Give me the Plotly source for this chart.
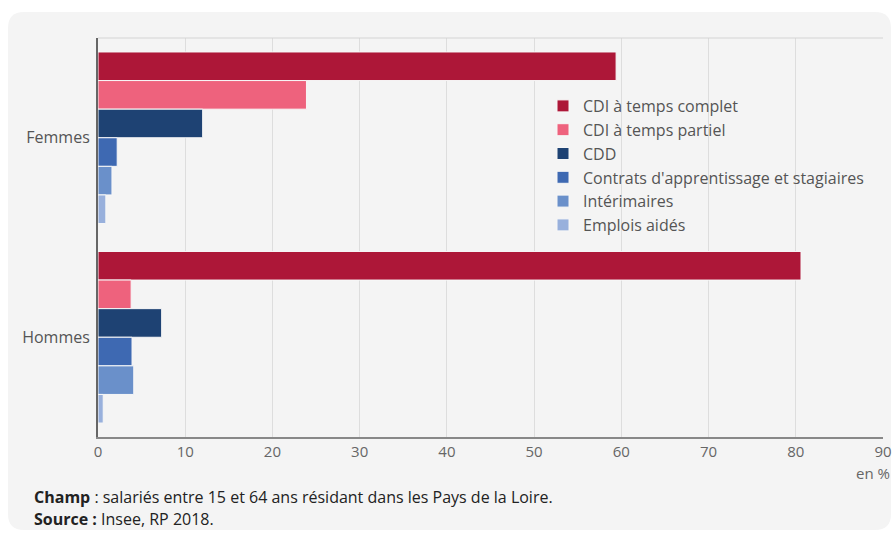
import plotly.graph_objects as go

categories = ["Femmes", "Hommes"]
series_names = ["CDI à temps complet", "CDI à temps partiel", "CDD",
                "Contrats d'apprentissage et stagiaires", "Intérimaires", "Emplois aidés"]
cdi_complet = [59.4, 80.6]
cdi_partiel = [23.9, 3.8]
cdd = [12.0, 7.3]
apprentissage = [2.2, 3.9]
interimaires = [1.6, 4.1]
emplois_aides = [0.9, 0.6]
values = [cdi_complet, cdi_partiel, cdd, apprentissage, interimaires, emplois_aides]
colors = ["#ad1738", "#ee627d", "#1e4273", "#3e69b2", "#6a90ca", "#98b0dc"]
x_ticks = [0, 10, 20, 30, 40, 50, 60, 70, 80, 90]

W, H = 892, 540
L, R, T, B = 98, 9, 38, 103
pw, ph = W - L - R, H - T - B

def px(x):
    return (x - L) / pw

def py(y):
    return (H - B - y) / ph

fig = go.Figure()
for name, vals, col in zip(series_names, values, colors):
    fig.add_trace(go.Bar(
        y=categories, x=vals, name=name, orientation="h",
        marker=dict(color=col, line=dict(color="#f7f7f7", width=1)),
    ))

# rounded card background
cx0, cx1, cy0, cy1, rr = 8, 891, 12, 530, 16
rx, ry = rr / pw, rr / ph
X0, X1, Y0, Y1 = px(cx0), px(cx1), py(cy1), py(cy0)
path = (f"M {X0+rx},{Y1} L {X1-rx},{Y1} Q {X1},{Y1} {X1},{Y1-ry} "
        f"L {X1},{Y0+ry} Q {X1},{Y0} {X1-rx},{Y0} L {X0+rx},{Y0} "
        f"Q {X0},{Y0} {X0},{Y0+ry} L {X0},{Y1-ry} Q {X0},{Y1} {X0+rx},{Y1} Z")

shapes = [
    dict(type="path", path=path, xref="paper", yref="paper",
         fillcolor="#f4f4f4", line=dict(width=0), layer="below"),
    dict(type="line", xref="paper", yref="paper", x0=0, x1=1, y0=1, y1=1,
         line=dict(color="#d4d4d4", width=1)),
]

fig.update_layout(
    width=W, height=H,
    margin=dict(l=L, r=R, t=T, b=B, autoexpand=False),
    paper_bgcolor="white",
    plot_bgcolor="#f7f7f7",
    barmode="group",
    bargap=0.14,
    bargroupgap=0,
    font=dict(family="Open Sans", color="#555"),
    showlegend=True,
    legend=dict(
        x=px(543), y=py(89), xanchor="left", yanchor="top",
        bgcolor="rgba(0,0,0,0)", traceorder="normal",
        font=dict(size=16, color="#555", family="Open Sans"),
        itemwidth=30, tracegroupgap=0,
    ),
    xaxis=dict(
        range=[0, 90], tickvals=x_ticks, ticktext=[str(v) for v in x_ticks],
        showgrid=True, gridcolor="#dddddd", gridwidth=1,
        showline=True, linecolor="#888", linewidth=2,
        zeroline=False, ticks="", automargin=False,
        tickfont=dict(size=15, color="#666"),
    ),
    yaxis=dict(
        autorange="reversed", showgrid=False,
        showline=True, linecolor="#666", linewidth=2,
        ticks="", tickfont=dict(size=16, color="#555"),
        ticklabelstandoff=3, automargin=False,
    ),
    shapes=shapes,
    annotations=[
        dict(text="en %", xref="paper", yref="paper", x=px(892), y=py(473),
             xanchor="right", yanchor="middle", showarrow=False,
             font=dict(size=15, color="#666")),
        dict(text="<b>Champ</b> : salariés entre 15 et 64 ans résidant dans les Pays de la Loire.",
             xref="paper", yref="paper", x=px(32), y=py(497),
             xanchor="left", yanchor="middle", showarrow=False,
             font=dict(size=16, color="#222")),
        dict(text="<b>Source :</b> Insee, RP 2018.",
             xref="paper", yref="paper", x=px(32), y=py(519),
             xanchor="left", yanchor="middle", showarrow=False,
             font=dict(size=16, color="#222")),
    ],
)

fig.write_html(
    "out.html",
    config={"displayModeBar": False},
    post_script="document.body.style.margin='0';document.body.style.overflow='hidden';",
)
